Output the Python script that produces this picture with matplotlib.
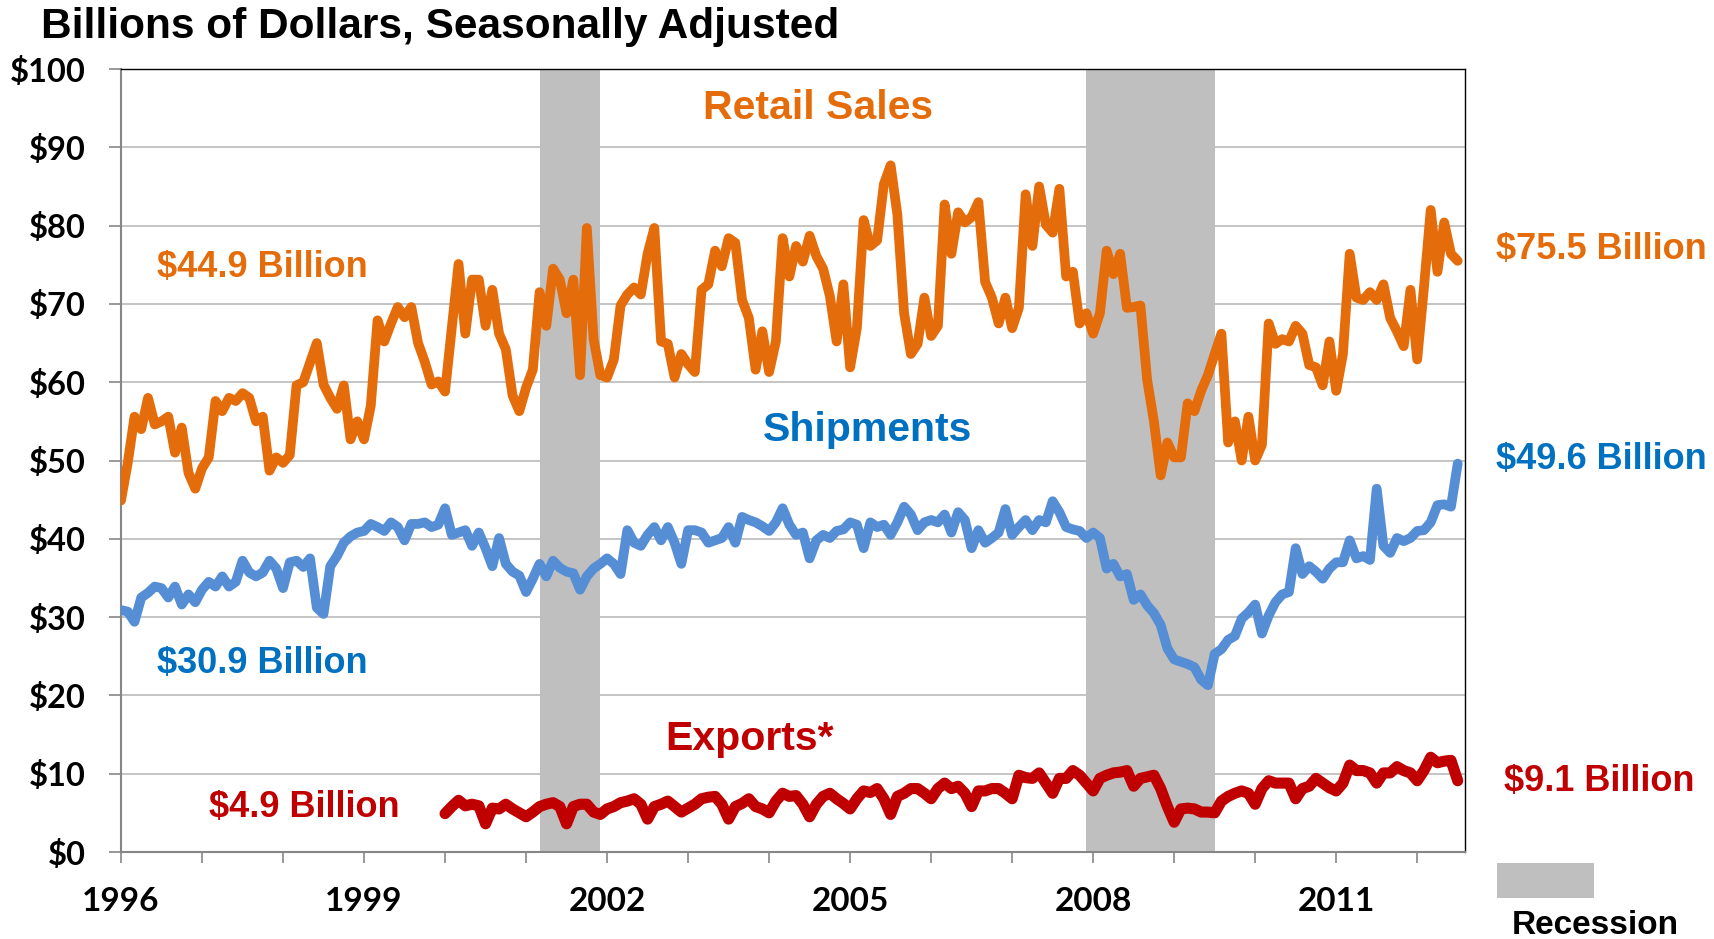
import numpy as np
import matplotlib
matplotlib.use('Agg')
from matplotlib import pyplot as plt
from matplotlib.patches import Rectangle

# monthly values, Jan 1996 .. Jul 2012 (billions of dollars)
start_year = 1996
retail = [
    44.9, 49.7, 55.6, 54.0, 58.0, 54.6, 55.0, 55.6, 51.0, 54.2, 48.4, 46.4,
    49.0, 50.4, 57.6, 56.3, 58.0, 57.6, 58.6, 58.0, 55.0, 55.6, 48.7, 50.4,
    49.7, 50.7, 59.6, 60.0, 62.5, 65.0, 59.7, 58.0, 56.6, 59.6, 52.7, 55.0,
    52.7, 57.0, 67.9, 65.2, 67.5, 69.6, 68.3, 69.6, 65.0, 62.6, 59.7, 60.1,
    58.8, 67.0, 75.1, 66.2, 73.1, 73.1, 67.2, 71.8, 66.2, 64.2, 58.3, 56.3,
    59.3, 61.6, 71.5, 67.2, 74.5, 73.1, 68.8, 73.1, 60.9, 79.7, 65.5, 60.9,
    60.6, 62.9, 69.8, 71.2, 72.1, 71.2, 76.4, 79.7, 65.2, 64.9, 60.6, 63.6,
    62.3, 61.3, 71.8, 72.5, 76.8, 74.8, 78.4, 77.8, 70.5, 68.2, 61.6, 66.5,
    61.3, 65.2, 78.4, 73.5, 77.4, 75.4, 78.7, 76.1, 74.5, 71.0, 65.2, 72.5,
    61.9, 66.9, 80.7, 77.4, 78.1, 85.3, 87.7, 81.4, 68.8, 63.6, 64.9, 70.8,
    65.9, 67.2, 82.7, 76.4, 81.7, 80.4, 81.1, 83.0, 72.8, 70.8, 67.5, 70.8,
    66.9, 69.5, 84.0, 77.4, 85.0, 80.1, 79.1, 84.7, 73.5, 74.1, 67.5, 68.8,
    66.2, 68.8, 76.8, 73.8, 76.4, 69.5, 69.6, 69.8, 60.3, 55.0, 48.1, 52.3,
    50.4, 50.4, 57.3, 56.3, 58.9, 60.9, 63.6, 66.2, 52.3, 55.0, 50.0, 55.6,
    50.0, 52.0, 67.5, 64.9, 65.5, 65.2, 67.2, 66.2, 62.2, 61.9, 59.6, 65.2,
    58.9, 63.6, 76.4, 70.8, 70.5, 71.5, 70.5, 72.5, 68.2, 66.5, 64.6, 71.8,
    62.9, 72.1, 82.0, 74.1, 80.4, 76.4, 75.5,
]
shipments = [
    30.9, 30.7, 29.4, 32.5, 33.1, 33.9, 33.7, 32.5, 33.9, 31.6, 32.9, 31.9,
    33.5, 34.5, 33.9, 35.2, 33.9, 34.5, 37.2, 35.7, 35.2, 35.7, 37.2, 36.2,
    33.7, 37.0, 37.2, 36.4, 37.5, 31.2, 30.4, 36.5, 37.8, 39.5, 40.3, 40.8,
    41.0, 41.9, 41.5, 41.0, 42.1, 41.5, 39.8, 41.9, 41.9, 42.1, 41.5, 41.8,
    43.9, 40.5, 40.8, 41.1, 39.1, 40.8, 38.8, 36.5, 40.1, 36.8, 35.8, 35.3,
    33.2, 34.9, 36.8, 35.2, 37.2, 36.3, 35.8, 35.6, 33.5, 35.2, 36.2, 36.8,
    37.5, 36.8, 35.5, 41.1, 39.5, 39.1, 40.5, 41.5, 39.8, 41.5, 39.5, 36.8,
    41.1, 41.1, 40.8, 39.5, 39.8, 40.1, 41.5, 39.5, 42.8, 42.4, 42.1, 41.6,
    41.0, 42.1, 43.9, 41.8, 40.5, 40.8, 37.5, 39.8, 40.5, 40.1, 41.0, 41.2,
    42.1, 41.8, 38.8, 42.1, 41.5, 41.8, 40.5, 42.1, 44.1, 43.1, 41.1, 42.1,
    42.4, 42.1, 43.1, 40.8, 43.4, 42.4, 38.8, 41.1, 39.5, 40.1, 40.8, 43.8,
    40.5, 41.5, 42.4, 41.1, 42.4, 42.1, 44.8, 43.4, 41.5, 41.2, 41.0, 40.1,
    40.8, 40.1, 36.2, 36.8, 35.2, 35.5, 32.2, 32.9, 31.5, 30.5, 29.0, 26.0,
    24.6, 24.3, 24.0, 23.6, 22.0, 21.3, 25.3, 25.9, 27.1, 27.6, 29.8, 30.6,
    31.6, 27.9, 30.2, 31.9, 32.9, 33.2, 38.8, 35.5, 36.5, 35.8, 34.9, 36.2,
    37.0, 37.0, 39.8, 37.5, 37.8, 37.3, 46.4, 39.1, 38.2, 40.1, 39.7, 40.1,
    41.0, 41.1, 42.1, 44.3, 44.4, 44.1, 49.6,
]
# exports start Jan 2000
exports_start = 48
exports = [
    4.9, 5.8, 6.6, 5.9, 6.1, 5.9, 3.6, 5.6, 5.5, 6.1, 5.5, 5.0,
    4.5, 5.1, 5.8, 6.1, 6.3, 5.8, 3.6, 5.8, 6.1, 6.1, 5.1, 4.8,
    5.5, 5.8, 6.3, 6.5, 6.8, 6.1, 4.2, 5.8, 6.1, 6.5, 5.8, 5.1,
    5.6, 6.1, 6.8, 7.0, 7.1, 6.1, 4.2, 5.8, 6.2, 6.8, 5.8, 5.5,
    5.0, 6.5, 7.5, 7.1, 7.2, 6.1, 4.5, 6.1, 7.1, 7.5, 6.8, 6.2,
    5.5, 6.8, 7.8, 7.6, 8.1, 6.8, 4.8, 7.1, 7.5, 8.1, 8.1, 7.5,
    6.8, 8.1, 8.8, 8.1, 8.4, 7.5, 5.8, 7.8, 7.8, 8.1, 8.1, 7.5,
    6.8, 9.8, 9.5, 9.4, 10.1, 8.8, 7.5, 9.4, 9.4, 10.4, 9.8, 8.8,
    7.8, 9.4, 9.8, 10.1, 10.2, 10.4, 8.4, 9.4, 9.6, 9.8, 8.1, 5.8,
    3.8, 5.5, 5.6, 5.5, 5.1, 5.1, 5.0, 6.5, 7.1, 7.5, 7.8, 7.5,
    6.1, 8.1, 9.1, 8.8, 8.8, 8.8, 6.8, 8.1, 8.4, 9.4, 8.8, 8.2,
    7.8, 8.8, 11.1, 10.4, 10.4, 10.1, 8.8, 10.1, 10.1, 10.9, 10.4, 10.1,
    9.1, 10.4, 12.1, 11.4, 11.6, 11.7, 9.1,
]
recessions = [(2001 + 2 / 12, 2001 + 11 / 12), (2007 + 11 / 12, 2009.5)]
y_ticks = list(range(0, 101, 10))
y_labels = ['$' + str(v) for v in y_ticks]
year_ticks = list(range(1996, 2013))
label_years = [1996, 1999, 2002, 2005, 2008, 2011]

ORANGE = '#E46C0A'
BLUE_LINE = '#558ED5'
BLUE_TXT = '#0070C0'
RED = '#C00000'
GREY = '#BFBFBF'

W, H = 1715, 939
fig = plt.figure(figsize=(W / 100, H / 100), dpi=100)
ax = fig.add_axes([121 / W, 1 - 852 / H, (1465 - 121) / W, (852 - 69) / H])

def fx(px):
    return px / W

def fy(py):
    return 1 - py / H

x_main = start_year + np.arange(len(retail)) / 12
x_exp = start_year + (exports_start + np.arange(len(exports))) / 12

for a, b in recessions:
    ax.axvspan(a, b, color=GREY, lw=0, zorder=1)

ax.plot(x_main, retail, color=ORANGE, lw=7, solid_joinstyle='round',
        solid_capstyle='round', zorder=3)
ax.plot(x_main, shipments, color=BLUE_LINE, lw=7, solid_joinstyle='round',
        solid_capstyle='round', zorder=3)
ax.plot(x_exp, exports, color=RED, lw=8, solid_joinstyle='round',
        solid_capstyle='round', zorder=3)

ax.set_xlim(1996, 2012.59)
ax.set_ylim(0, 100)
ax.set_yticks(y_ticks)
ax.set_yticklabels(y_labels, fontfamily='Lato', fontweight='bold', fontsize=23.5)
ax.set_xticks(year_ticks)
ax.set_xticklabels([str(y) if y in label_years else '' for y in year_ticks],
                   fontfamily='Lato', fontweight='bold', fontsize=24)
ax.tick_params(axis='y', length=8.5, width=1.2, color='#868686', pad=17)
ax.tick_params(axis='x', length=8, width=1.2, color='#868686', pad=17)
ax.yaxis.grid(True, color=GREY, lw=1.3)
ax.set_axisbelow(True)
for s in ['left', 'bottom']:
    ax.spines[s].set_color('#868686')
    ax.spines[s].set_linewidth(1.5)
for s in ['top', 'right']:
    ax.spines[s].set_color('black')
    ax.spines[s].set_linewidth(1.0)

fig.text(fx(41), fy(27), 'Billions of Dollars, Seasonally Adjusted',
         family='Liberation Sans', weight='bold',
         fontsize=30.5, ha='left', va='center')

big = dict(family='Liberation Sans', weight='bold', fontsize=29.5, ha='center', va='center')
val = dict(family='Liberation Sans', weight='bold', fontsize=26, ha='center', va='center')
fig.text(fx(818), fy(108), 'Retail Sales', color=ORANGE, **big)
fig.text(fx(867), fy(430), 'Shipments', color=BLUE_TXT, **big)
fig.text(fx(750), fy(739), 'Exports*', color=RED, **big)
fig.text(fx(262), fy(267), '$44.9 Billion', color=ORANGE, **val)
fig.text(fx(262), fy(663), '$30.9 Billion', color=BLUE_TXT, **val)
fig.text(fx(304), fy(808), '$4.9 Billion', color=RED, **val)
fig.text(fx(1601), fy(250), '$75.5 Billion', color=ORANGE, **val)
fig.text(fx(1601), fy(459), '$49.6 Billion', color=BLUE_TXT, **val)
fig.text(fx(1599), fy(782), '$9.1 Billion', color=RED, **val)

fig.patches.append(Rectangle((fx(1497), fy(898)), fx(1594) - fx(1497), fy(863) - fy(898),
                             transform=fig.transFigure, color=GREY, lw=0))
fig.text(fx(1595), fy(925), 'Recession', family='Liberation Sans', weight='bold',
         fontsize=24, ha='center', va='center')

fig.savefig('out.png', dpi=100)
